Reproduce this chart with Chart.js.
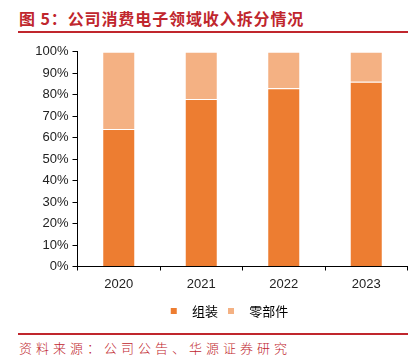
<!DOCTYPE html>
<html>
<head>
<meta charset="utf-8">
<script src="https://cdn.jsdelivr.net/npm/chart.js@4.4.0/dist/chart.umd.min.js"></script>
<style>
    body { margin: 0; background: #fff; width: 420px; height: 364px; overflow: hidden; position: relative; }
    #titulo {
        position: absolute; left: 19px; top: 6px;
        font-family: "Noto Sans CJK SC", sans-serif; font-weight: bold;
        font-size: 16px; letter-spacing: 0.9px; color: #c0262d; white-space: nowrap;
    }
    .linea { position: absolute; left: 18px; width: 390px; height: 2px; background: #c0262d; }
    #fuente {
        position: absolute; left: 19px; top: 338px;
        font-family: "Noto Sans CJK SC", sans-serif; font-weight: 300;
        font-size: 13px; letter-spacing: 4px; color: #c0262d; white-space: nowrap;
    }
    #wrap { position: absolute; left: 0; top: 40px; width: 420px; height: 290px; }
</style>
</head>
<body>
<div id="titulo">图 5：公司消费电子领域收入拆分情况</div>
<div class="linea" style="top:31px"></div>
<div id="wrap"><canvas id="grafico"></canvas></div>
<div class="linea" style="top:333px"></div>
<div id="fuente">资料来源：公司公告、华源证券研究</div>

<script>
// datos del gráfico (porcentajes)
var years = ['2020', '2021', '2022', '2023'];
var ensamblaje = [64, 78, 83, 86];      // 组装
var componentes = [36, 22, 17, 14];     // 零部件
var yTicks = [0, 10, 20, 30, 40, 50, 60, 70, 80, 90, 100];

var ctx = document.getElementById('grafico').getContext('2d');
var chart = new Chart(ctx, {
    type: 'bar',
    data: {
        labels: years,
        datasets: [{
            label: '组装',
            data: ensamblaje,
            backgroundColor: '#ED7D31',
            borderColor: 'rgba(255,255,255,0.5)',
            borderWidth: 1,
            barPercentage: 0.4,
            categoryPercentage: 1
        }, {
            label: '零部件',
            data: componentes,
            backgroundColor: '#F4B183',
            borderColor: 'rgba(255,255,255,0.5)',
            borderWidth: 1,
            barPercentage: 0.4,
            categoryPercentage: 1
        }]
    },
    options: {
        responsive: true,
        maintainAspectRatio: false,
        animation: false,
        layout: { padding: { left: 0, right: 12.5, top: 10, bottom: 2.5 } },
        scales: {
            x: {
                stacked: true,
                grid: { display: true, drawOnChartArea: false, drawTicks: true, tickLength: 4, color: '#000', offset: true },
                border: { display: true, color: '#000', width: 1 },
                ticks: { color: '#222', font: { family: 'Liberation Sans', size: 13 }, padding: 6 },
                afterFit: function (scale) { scale.height = 28; }
            },
            y: {
                stacked: true,
                min: 0,
                max: 100,
                afterBuildTicks: function (scale) {
                    scale.ticks = yTicks.map(function (v) { return { value: v }; });
                },
                grid: { display: true, drawOnChartArea: false, drawTicks: true, tickLength: 5, color: '#000' },
                border: { display: true, color: '#000', width: 1 },
                ticks: {
                    color: '#222',
                    font: { family: 'Liberation Sans', size: 13 },
                    padding: 4,
                    callback: function (v) { return v + '%'; }
                },
                afterFit: function (scale) { scale.width = 77.5; }
            }
        },
        plugins: {
            tooltip: { enabled: false },
            legend: {
                position: 'bottom',
                fullSize: false,
                labels: {
                    boxWidth: 6,
                    boxHeight: 6,
                    padding: 10,
                    color: '#333',
                    font: { family: 'Noto Sans CJK SC', size: 13 },
                    generateLabels: function (c) {
                        var n = c.data.datasets.length;
                        return c.data.datasets.map(function (ds, i) {
                            return {
                                text: '   ' + ds.label + (i === n - 1 ? '　　' : ''),
                                fillStyle: ds.backgroundColor,
                                strokeStyle: ds.backgroundColor,
                                lineWidth: 0,
                                datasetIndex: i
                            };
                        });
                    }
                }
            }
        }
    }
});
</script>
</body>
</html>
